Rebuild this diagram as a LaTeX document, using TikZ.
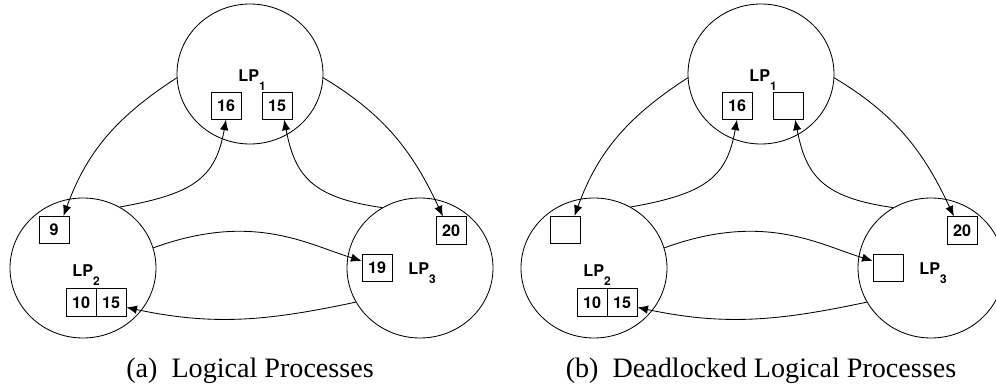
\documentclass[tikz,border=0pt]{standalone}
\usepackage{fontspec}
\setmainfont{Liberation Serif}
\newfontfamily\lpfont{TeX Gyre Heros}
\usetikzlibrary{arrows.meta,shapes.geometric}

\begin{document}
\begin{tikzpicture}[lp/.style={draw,ellipse,minimum width=3.65cm,minimum height=3.5cm,inner sep=0pt},
	tsbox/.style={draw,minimum width=0.75cm,minimum height=0.68cm,inner sep=0pt,font=\lpfont\bfseries\fontsize{11.5}{13}\selectfont},
	lpname/.style={anchor=base west,inner sep=0pt,font=\lpfont\bfseries\fontsize{11.5}{13}\selectfont},
	msg/.style={-{Latex[length=7.5pt,width=6pt]}},
	line width=0.6pt]
	\useasboundingbox (0,0) rectangle (24.9,-9.675);
	\foreach \pan/\dx/\tb/\tc/\td/\capt in {a/0/15/9/19/Logical Processes,b/12.775/{}/{}/{}/Deadlocked Logical Processes}{
		\begin{scope}[xshift=\dx cm]
			% processes
			\node[lp] (\pan-lp1) at (6.25,-1.85) {};
			\node[lp] (\pan-lp2) at (2.075,-6.7) {};
			\node[lp] (\pan-lp3) at (10.5,-6.7) {};
			\node[lpname] (\pan-n1) at (5.95,-2.05) {LP\raisebox{-6pt}{\fontsize{8.5}{10}\selectfont 1}};
			\node[lpname] (\pan-n2) at (1.8,-6.925) {LP\raisebox{-6pt}{\fontsize{8.5}{10}\selectfont 2}};
			\node[lpname] (\pan-n3) at (10.2,-6.875) {LP\raisebox{-6pt}{\fontsize{8.5}{10}\selectfont 3}};
			% timestamps
			\node[tsbox] (\pan-t16) at (5.65,-2.64) {16};
			\node[tsbox] (\pan-t15) at (6.925,-2.64) {\tb};
			\node[tsbox] (\pan-t9) at (1.35,-5.75) {\tc};
			\node[tsbox] (\pan-t10) at (2.025,-7.56) {10};
			\node[tsbox] (\pan-t15b) at (2.775,-7.56) {15};
			\node[tsbox] (\pan-t20) at (11.275,-5.76) {20};
			\node[tsbox] (\pan-t19) at (9.425,-6.7) {\td};
			% messages
			\draw[msg] (\pan-lp1.183) to[out=213,in=70] (\pan-t9.56);
			\draw[msg] (\pan-lp2.59) to[out=10,in=-100,out looseness=1.4,in looseness=1.1] (\pan-t16.south);
			\draw[msg] (\pan-lp1.-3) to[out=-31,in=115] (\pan-t20.120);
			\draw[msg] (\pan-lp3.122) to[out=172,in=-79,out looseness=1.4,in looseness=1.1] (\pan-t15.-63);
			\draw[msg] (\pan-lp2.16) to[out=20,in=163,out looseness=1.3,in looseness=0.7] (\pan-t19.155);
			\draw[msg] (\pan-lp3.208) to[out=192,in=-12] (\pan-t15b.-18);
			\node[anchor=base,font=\fontsize{20}{24}\selectfont] (\pan-cap) at (6.25,-9.45) {(\pan)\enspace\capt};
		\end{scope}
	}
\end{tikzpicture}
\end{document}
